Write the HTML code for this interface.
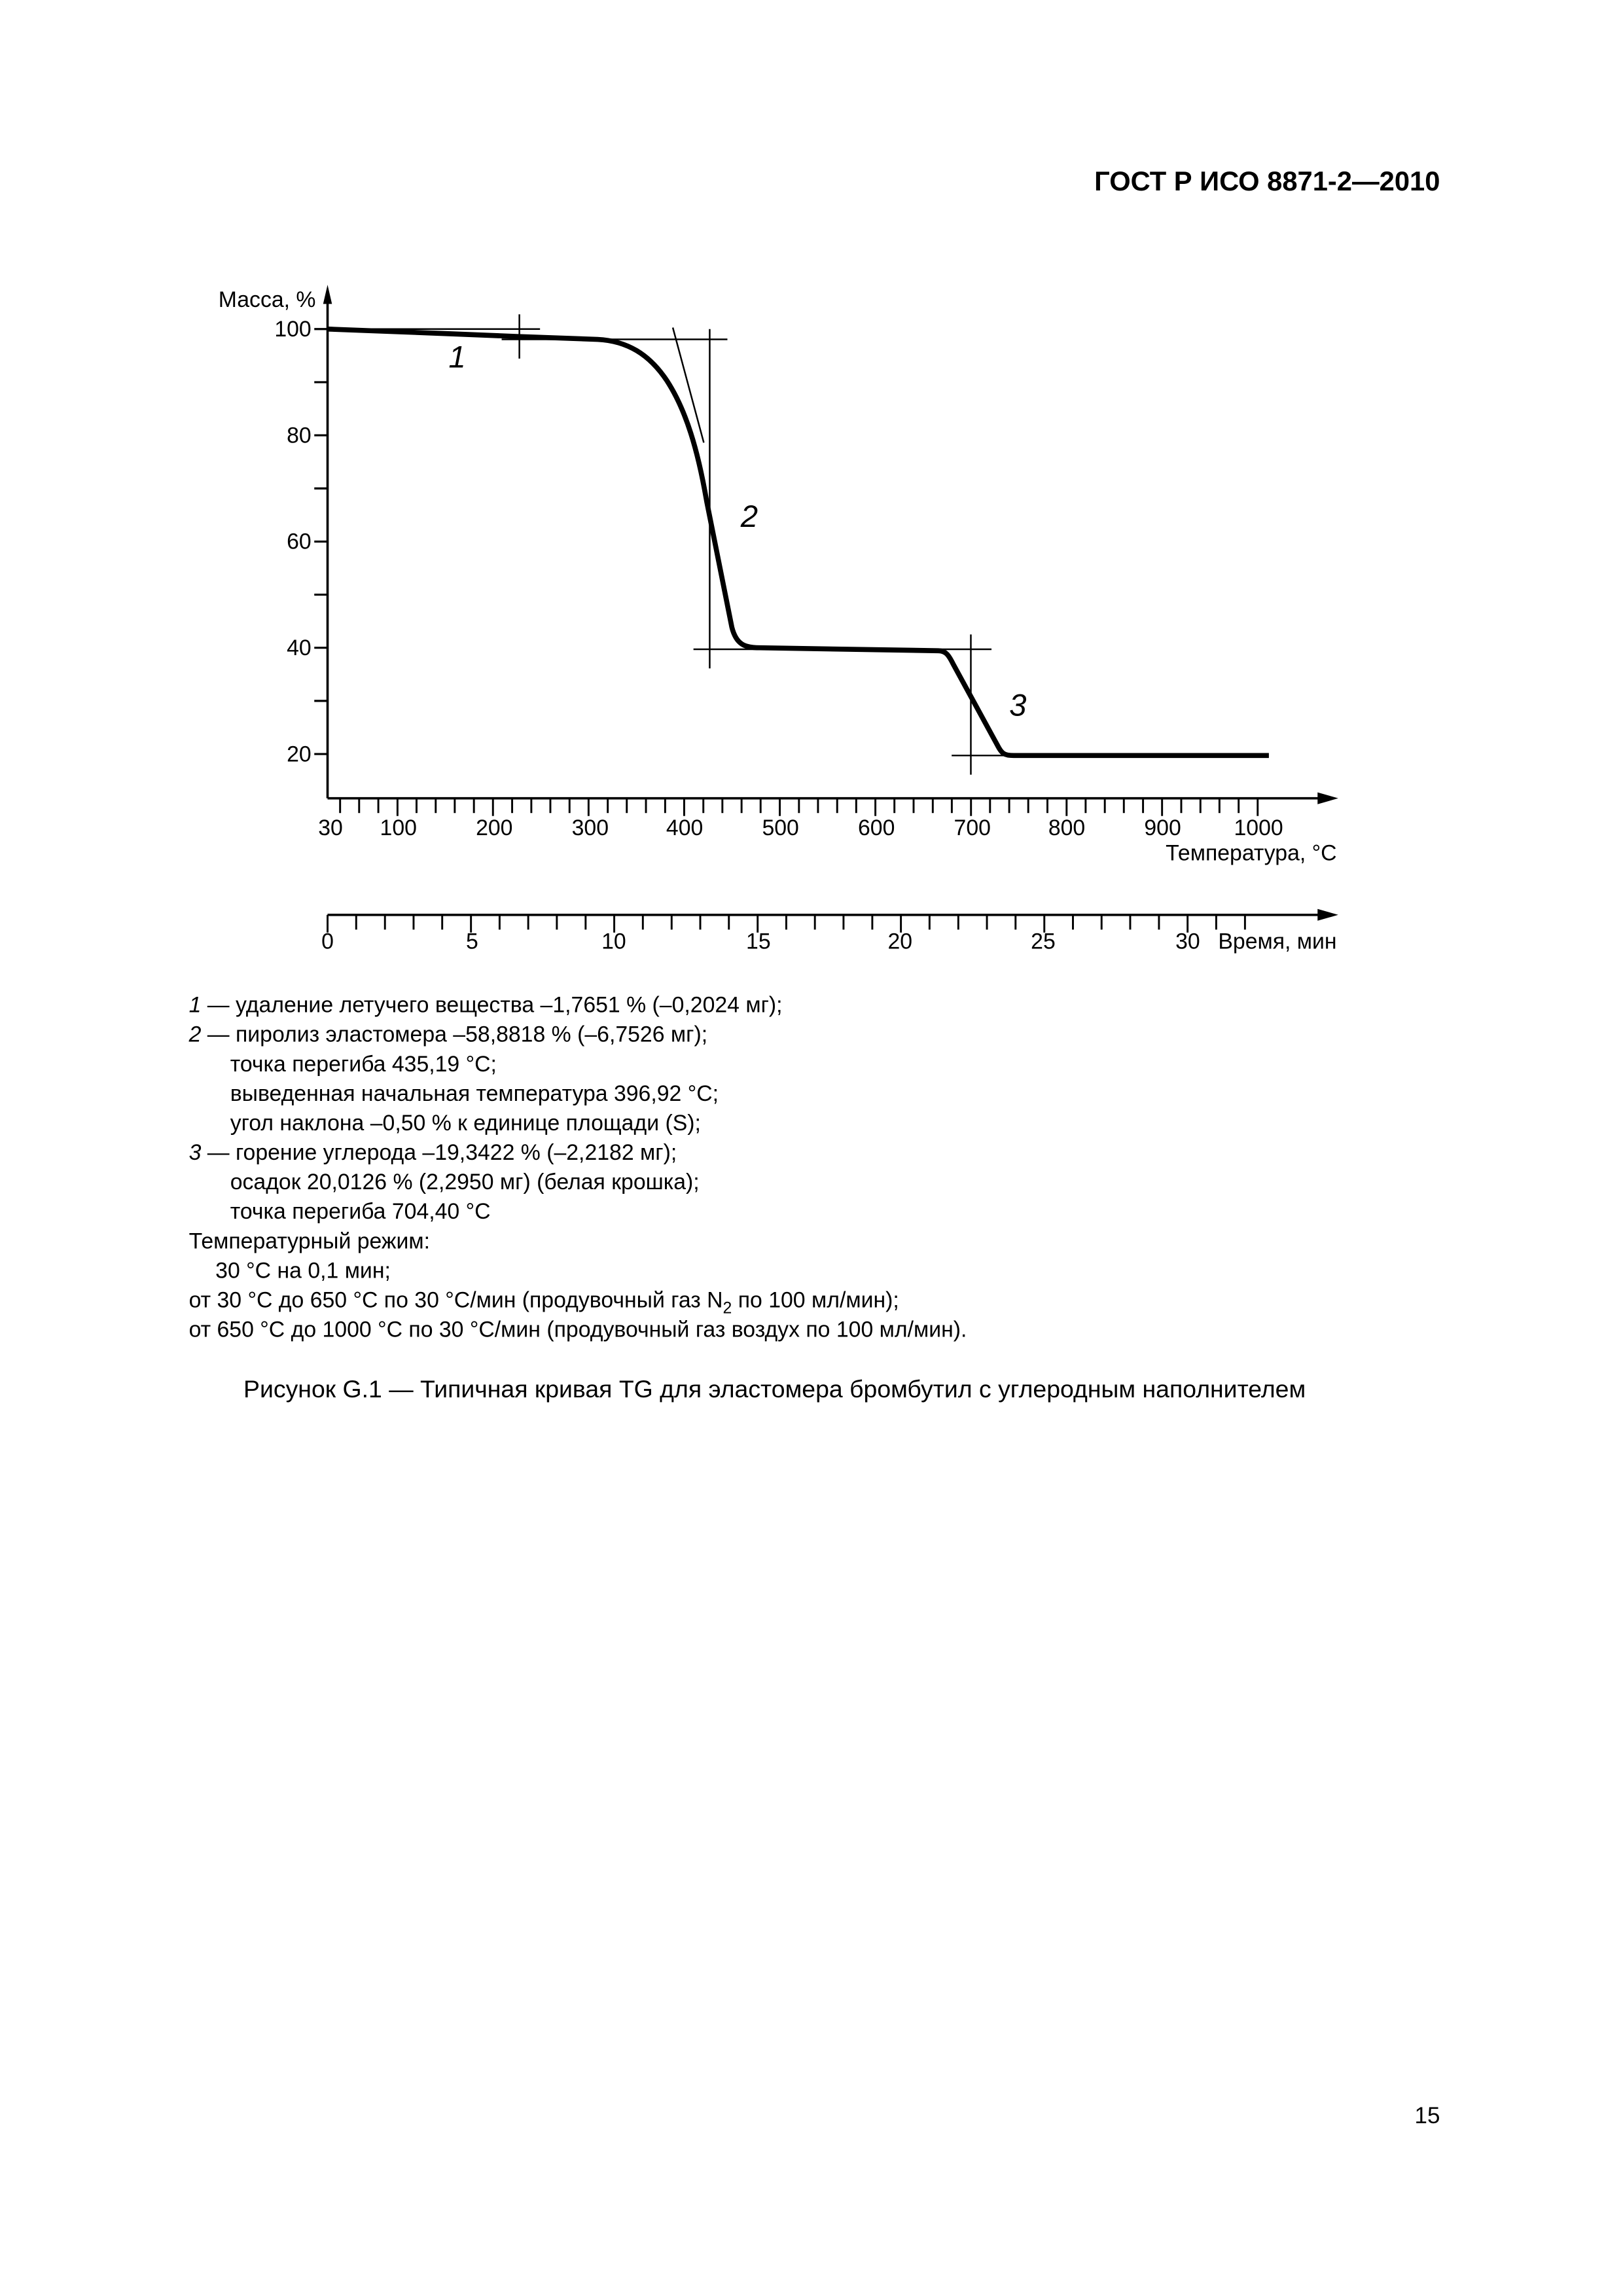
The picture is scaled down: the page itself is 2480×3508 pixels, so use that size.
<!DOCTYPE html>
<html><head><meta charset="utf-8"><style>
html,body{margin:0;padding:0;background:#fff}
svg{display:block}
text{font-family:"Liberation Sans",sans-serif;fill:#000}
</style></head><body>
<svg width="2480" height="3508" viewBox="0 0 1100 1556" xmlns="http://www.w3.org/2000/svg">
<text x="976" y="129" font-size="18.5" font-weight="bold" text-anchor="end">ГОСТ Р ИСО 8871-2—2010</text>

<g stroke="#000" stroke-width="1.6" fill="none">
<line x1="222" y1="200" x2="222" y2="541"/>
<line x1="222" y1="541" x2="898" y2="541"/>
<line x1="222" y1="620" x2="898" y2="620"/>
</g>
<polygon points="222,193 219,206 225,206" fill="#000"/>
<polygon points="907,541 893,537 893,545" fill="#000"/>
<polygon points="907,620 893,616 893,624" fill="#000"/>

<g stroke="#000" stroke-width="1.4">
<line x1="213" y1="223" x2="222" y2="223"/><line x1="213" y1="259" x2="222" y2="259"/>
<line x1="213" y1="295" x2="222" y2="295"/><line x1="213" y1="331" x2="222" y2="331"/>
<line x1="213" y1="367" x2="222" y2="367"/><line x1="213" y1="403" x2="222" y2="403"/>
<line x1="213" y1="439" x2="222" y2="439"/><line x1="213" y1="475" x2="222" y2="475"/>
<line x1="213" y1="511" x2="222" y2="511"/>
</g>
<g font-size="15" text-anchor="end">
<text x="211" y="228">100</text><text x="211" y="300">80</text><text x="211" y="372">60</text>
<text x="211" y="444">40</text><text x="211" y="516">20</text>
</g>
<text x="214" y="208" font-size="15" text-anchor="end">Масса, %</text>

<g font-size="15" text-anchor="middle">
<text x="224" y="566">30</text><text x="270" y="566">100</text><text x="335" y="566">200</text>
<text x="400" y="566">300</text><text x="464" y="566">400</text><text x="529" y="566">500</text>
<text x="594" y="566">600</text><text x="659" y="566">700</text><text x="723" y="566">800</text>
<text x="788" y="566">900</text><text x="853" y="566">1000</text>
</g>
<text x="906" y="583" font-size="15" text-anchor="end">Температура, °C</text>

<g font-size="15" text-anchor="middle">
<text x="222" y="643">0</text><text x="320" y="643">5</text><text x="416" y="643">10</text>
<text x="514" y="643">15</text><text x="610" y="643">20</text><text x="707" y="643">25</text>
<text x="805" y="643">30</text>
</g>
<text x="906" y="643" font-size="15" text-anchor="end">Время, мин</text>

<g stroke="#000" stroke-width="1.1" fill="none">
<line x1="222" y1="223" x2="366" y2="223"/>
<line x1="340" y1="230" x2="493" y2="230"/>
<line x1="352" y1="213" x2="352" y2="243"/>
<line x1="481" y1="223" x2="481" y2="453"/>
<line x1="456" y1="222" x2="477" y2="300"/>
<line x1="470" y1="440" x2="672" y2="440"/>
<line x1="658" y1="430" x2="658" y2="525"/>
<line x1="645" y1="512" x2="690" y2="512"/>
</g>
<path d="M222,223 L300,226 L350,228 L405,230 C425,231 440,240 452,258 C465,278 473,305 479,340 L496,425 C499,437 505,439 515,439 L636,441 C641,441 643,444 646,450 L676,505 C679,511 681,512 687,512 L860,512" stroke="#000" stroke-width="3.4" fill="none" stroke-linejoin="round"/>

<g font-size="21" font-style="italic">
<text x="304" y="249">1</text><text x="502" y="357">2</text><text x="684" y="485">3</text>
</g>

<g font-size="15">
<text x="128" y="686"><tspan font-style="italic">1</tspan> — удаление летучего вещества –1,7651 % (–0,2024 мг);</text>
<text x="128" y="706"><tspan font-style="italic">2</tspan> — пиролиз эластомера –58,8818 % (–6,7526 мг);</text>
<text x="156" y="726">точка перегиба 435,19 °С;</text>
<text x="156" y="746">выведенная начальная температура 396,92 °С;</text>
<text x="156" y="766">угол наклона –0,50 % к единице площади (S);</text>
<text x="128" y="786"><tspan font-style="italic">3</tspan> — горение углерода –19,3422 % (–2,2182 мг);</text>
<text x="156" y="806">осадок 20,0126 % (2,2950 мг) (белая крошка);</text>
<text x="156" y="826">точка перегиба 704,40 °С</text>
<text x="128" y="846">Температурный режим:</text>
<text x="146" y="866">30 °С на 0,1 мин;</text>
<text x="128" y="886">от 30 °С до 650  °С по 30 °С/мин (продувочный газ N<tspan font-size="11" dy="4">2</tspan><tspan dy="-4"> по 100 мл/мин);</tspan></text>
<text x="128" y="906">от 650 °С до 1000 °С по 30 °С/мин (продувочный газ воздух по 100 мл/мин).</text>
</g>
<text x="525" y="947" font-size="16.6" text-anchor="middle">Рисунок G.1 — Типичная кривая TG для эластомера бромбутил с углеродным наполнителем</text>

<text x="976" y="1439" font-size="15.5" text-anchor="end">15</text>

<g stroke="#000" stroke-width="1.3">
<line x1="230.5" y1="541" x2="230.5" y2="551"/><line x1="243.4" y1="541" x2="243.4" y2="551"/><line x1="256.4" y1="541" x2="256.4" y2="551"/><line x1="269.4" y1="541" x2="269.4" y2="553"/><line x1="282.3" y1="541" x2="282.3" y2="551"/><line x1="295.3" y1="541" x2="295.3" y2="551"/><line x1="308.2" y1="541" x2="308.2" y2="551"/><line x1="321.2" y1="541" x2="321.2" y2="551"/><line x1="334.1" y1="541" x2="334.1" y2="553"/><line x1="347.1" y1="541" x2="347.1" y2="551"/><line x1="360.1" y1="541" x2="360.1" y2="551"/><line x1="373.0" y1="541" x2="373.0" y2="551"/><line x1="386.0" y1="541" x2="386.0" y2="551"/><line x1="398.9" y1="541" x2="398.9" y2="553"/><line x1="411.9" y1="541" x2="411.9" y2="551"/><line x1="424.8" y1="541" x2="424.8" y2="551"/><line x1="437.8" y1="541" x2="437.8" y2="551"/><line x1="450.8" y1="541" x2="450.8" y2="551"/><line x1="463.7" y1="541" x2="463.7" y2="553"/><line x1="476.7" y1="541" x2="476.7" y2="551"/><line x1="489.6" y1="541" x2="489.6" y2="551"/><line x1="502.6" y1="541" x2="502.6" y2="551"/><line x1="515.5" y1="541" x2="515.5" y2="551"/><line x1="528.5" y1="541" x2="528.5" y2="553"/><line x1="541.5" y1="541" x2="541.5" y2="551"/><line x1="554.4" y1="541" x2="554.4" y2="551"/><line x1="567.4" y1="541" x2="567.4" y2="551"/><line x1="580.3" y1="541" x2="580.3" y2="551"/><line x1="593.3" y1="541" x2="593.3" y2="553"/><line x1="606.2" y1="541" x2="606.2" y2="551"/><line x1="619.2" y1="541" x2="619.2" y2="551"/><line x1="632.2" y1="541" x2="632.2" y2="551"/><line x1="645.1" y1="541" x2="645.1" y2="551"/><line x1="658.1" y1="541" x2="658.1" y2="553"/><line x1="671.0" y1="541" x2="671.0" y2="551"/><line x1="684.0" y1="541" x2="684.0" y2="551"/><line x1="696.9" y1="541" x2="696.9" y2="551"/><line x1="709.9" y1="541" x2="709.9" y2="551"/><line x1="722.9" y1="541" x2="722.9" y2="553"/><line x1="735.8" y1="541" x2="735.8" y2="551"/><line x1="748.8" y1="541" x2="748.8" y2="551"/><line x1="761.7" y1="541" x2="761.7" y2="551"/><line x1="774.7" y1="541" x2="774.7" y2="551"/><line x1="787.6" y1="541" x2="787.6" y2="553"/><line x1="800.6" y1="541" x2="800.6" y2="551"/><line x1="813.6" y1="541" x2="813.6" y2="551"/><line x1="826.5" y1="541" x2="826.5" y2="551"/><line x1="839.5" y1="541" x2="839.5" y2="551"/><line x1="852.4" y1="541" x2="852.4" y2="553"/>
<line x1="222.0" y1="620" x2="222.0" y2="632"/><line x1="241.4" y1="620" x2="241.4" y2="630"/><line x1="260.9" y1="620" x2="260.9" y2="630"/><line x1="280.3" y1="620" x2="280.3" y2="630"/><line x1="299.7" y1="620" x2="299.7" y2="630"/><line x1="319.2" y1="620" x2="319.2" y2="632"/><line x1="338.6" y1="620" x2="338.6" y2="630"/><line x1="358.0" y1="620" x2="358.0" y2="630"/><line x1="377.4" y1="620" x2="377.4" y2="630"/><line x1="396.9" y1="620" x2="396.9" y2="630"/><line x1="416.3" y1="620" x2="416.3" y2="632"/><line x1="435.7" y1="620" x2="435.7" y2="630"/><line x1="455.2" y1="620" x2="455.2" y2="630"/><line x1="474.6" y1="620" x2="474.6" y2="630"/><line x1="494.0" y1="620" x2="494.0" y2="630"/><line x1="513.5" y1="620" x2="513.5" y2="632"/><line x1="532.9" y1="620" x2="532.9" y2="630"/><line x1="552.3" y1="620" x2="552.3" y2="630"/><line x1="571.7" y1="620" x2="571.7" y2="630"/><line x1="591.2" y1="620" x2="591.2" y2="630"/><line x1="610.6" y1="620" x2="610.6" y2="632"/><line x1="630.0" y1="620" x2="630.0" y2="630"/><line x1="649.5" y1="620" x2="649.5" y2="630"/><line x1="668.9" y1="620" x2="668.9" y2="630"/><line x1="688.3" y1="620" x2="688.3" y2="630"/><line x1="707.8" y1="620" x2="707.8" y2="632"/><line x1="727.2" y1="620" x2="727.2" y2="630"/><line x1="746.6" y1="620" x2="746.6" y2="630"/><line x1="766.0" y1="620" x2="766.0" y2="630"/><line x1="785.5" y1="620" x2="785.5" y2="630"/><line x1="804.9" y1="620" x2="804.9" y2="632"/><line x1="824.3" y1="620" x2="824.3" y2="630"/><line x1="843.8" y1="620" x2="843.8" y2="630"/>
</g>
</svg>
</body></html>
